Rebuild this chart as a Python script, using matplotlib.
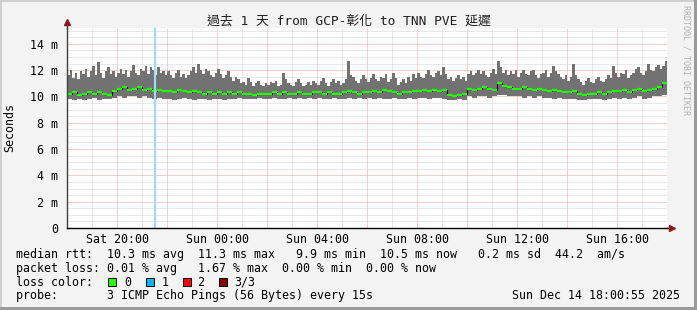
import numpy as np
import matplotlib.pyplot as plt
from matplotlib.patches import Rectangle

W, H = 697, 310

# hours since Sat 18:00
# smoke top: one value every 6 minutes, median / smoke bottom: every 12 minutes
top_step_h = 0.1
step_h = 0.2
smoke_top = [
    11.6, 12.0, 11.4, 11.8, 11.3, 11.9, 11.7, 12.1, 11.5, 11.9, 12.3, 11.6, 12.6, 11.8, 11.4, 11.9, 12.2, 11.7, 11.9, 11.5,
    11.8, 12.1, 11.7, 12.0, 11.5, 11.9, 12.4, 11.8, 11.6, 12.1, 11.9, 12.3, 11.7, 12.2, 12.0, 11.6, 12.2, 11.8, 11.9, 11.6,
    11.9, 11.6, 11.4, 11.8, 12.0, 11.5, 11.7, 11.4, 11.6, 11.9, 12.2, 11.8, 12.5, 12.0, 11.7, 12.1, 11.9, 11.6, 11.5, 11.8,
    12.1, 11.7, 11.4, 11.6, 11.9, 11.5, 11.2, 11.5, 11.3, 11.0, 11.1, 10.9, 11.4, 11.1, 10.8, 11.0, 11.2, 10.9, 10.8, 11.0,
    10.9, 11.1, 11.0, 11.2, 10.8, 10.9, 11.8, 11.3, 11.0, 10.9, 10.8, 11.1, 11.3, 11.0, 10.8, 10.9, 11.1, 10.9, 11.2, 11.0,
    10.9, 11.2, 11.4, 11.0, 10.8, 11.1, 11.3, 11.0, 11.2, 10.9, 11.0, 11.3, 12.7, 11.6, 11.5, 11.2, 11.0, 11.3, 11.6, 11.3,
    11.1, 11.4, 11.7, 11.3, 11.2, 11.5, 11.4, 11.7, 11.1, 11.3, 11.8, 11.4, 10.9, 11.1, 11.3, 11.0, 11.5, 11.2, 11.7, 11.4,
    11.8, 11.5, 11.4, 11.7, 12.0, 11.6, 11.5, 11.8, 11.9, 11.6, 12.2, 11.7, 11.3, 11.5, 11.2, 11.4, 11.6, 11.3, 11.5, 11.2,
    11.7, 11.9, 11.6, 11.8, 12.0, 11.7, 11.9, 11.6, 11.5, 11.8, 12.1, 11.7, 12.7, 12.2, 11.8, 12.0, 11.6, 11.9, 11.7, 12.0,
    11.5, 11.8, 12.0, 11.7, 11.6, 11.9, 12.0, 11.6, 11.4, 11.7, 11.8, 12.0, 11.5, 11.8, 12.3, 11.9, 11.7, 11.5, 11.3, 11.6,
    11.2, 11.5, 12.5, 11.6, 11.3, 11.1, 10.9, 11.2, 11.4, 11.1, 11.0, 11.3, 11.5, 11.2, 11.1, 11.3, 11.6, 11.4, 12.3, 11.8,
    11.5, 11.8, 11.7, 12.0, 11.4, 11.6, 11.8, 12.1, 12.2, 11.8, 11.6, 11.9, 12.5, 12.0, 11.9, 12.2, 12.4, 12.1, 12.3, 12.7,
]
median_rtt = [
    10.2, 10.3, 10.1, 10.2, 10.3, 10.2, 10.3, 10.2, 10.1, 10.4,
    10.6, 10.7, 10.5, 10.6, 10.7, 10.5, 10.6, 10.4, 10.5, 10.4,
    10.4, 10.3, 10.5, 10.4, 10.3, 10.4, 10.3, 10.2, 10.3, 10.2,
    10.3, 10.2, 10.3, 10.2, 10.3, 10.2, 10.2, 10.1, 10.2, 10.2,
    10.2, 10.3, 10.2, 10.3, 10.2, 10.2, 10.3, 10.2, 10.2, 10.3,
    10.3, 10.2, 10.3, 10.2, 10.2, 10.3, 10.4, 10.3, 10.2, 10.3,
    10.3, 10.4, 10.3, 10.5, 10.4, 10.3, 10.2, 10.3, 10.3, 10.4,
    10.4, 10.5, 10.4, 10.5, 10.4, 10.5, 10.1, 10.0, 10.1, 10.2,
    10.6, 10.5, 10.6, 10.7, 10.6, 10.5, 11.0, 10.8, 10.7, 10.6,
    10.6, 10.7, 10.6, 10.5, 10.6, 10.5, 10.4, 10.5, 10.4, 10.3,
    10.3, 10.4, 10.2, 10.1, 10.2, 10.2, 10.3, 10.2, 10.3, 10.4,
    10.4, 10.5, 10.3, 10.5, 10.6, 10.4, 10.5, 10.6, 10.7, 11.0,
]
smoke_bottom = [
    9.8, 9.7, 9.8, 9.7, 9.8, 9.9, 9.7, 9.8, 9.8, 9.9,
    10.0, 9.9, 10.0, 10.0, 9.9, 10.0, 9.9, 9.8, 9.9, 9.8,
    9.8, 9.7, 9.8, 9.9, 9.8, 9.7, 9.8, 9.8, 9.7, 9.8,
    9.8, 9.7, 9.8, 9.8, 9.9, 9.8, 9.8, 9.8, 9.9, 9.8,
    9.8, 9.9, 9.8, 9.8, 9.9, 9.8, 9.9, 9.8, 9.9, 9.8,
    9.9, 9.8, 9.8, 9.9, 9.8, 9.8, 9.9, 9.8, 9.9, 9.8,
    9.9, 9.8, 9.9, 9.8, 9.8, 9.9, 9.8, 9.8, 9.9, 9.8,
    9.9, 9.9, 9.8, 9.9, 9.9, 9.8, 9.7, 9.7, 9.8, 9.7,
    10.0, 9.9, 10.0, 10.0, 9.9, 10.0, 10.1, 10.1, 10.0, 10.0,
    10.0, 9.9, 10.0, 9.9, 10.0, 9.9, 9.9, 9.8, 9.9, 9.8,
    9.8, 9.8, 9.7, 9.7, 9.8, 9.8, 9.8, 9.7, 9.8, 9.9,
    9.8, 9.9, 9.8, 9.9, 10.0, 9.8, 9.9, 10.0, 10.0, 10.1,
]
loss_one_hours = [3.52]

xtick_hours = [2, 6, 10, 14, 18, 22]
xtick_labels = ['Sat 20:00', 'Sun 00:00', 'Sun 04:00', 'Sun 08:00', 'Sun 12:00', 'Sun 16:00']
ytick_vals = [0, 2, 4, 6, 8, 10, 12, 14]
ytick_labels = ['0', '2 m', '4 m', '6 m', '8 m', '10 m', '12 m', '14 m']

title = '過去 1 天 from GCP-彰化 to TNN PVE 延遲'
legend_lines = [
    'median rtt:  10.3 ms avg  11.3 ms max   9.9 ms min  10.5 ms now   0.2 ms sd  44.2  am/s',
    'packet loss: 0.01 % avg   1.67 % max  0.00 % min  0.00 % now',
    'loss color:',
    'probe:       3 ICMP Echo Pings (56 Bytes) every 15s',
]
loss_names = ['0', '1', '2', '3/3']
loss_colors = ['#22ff00', '#00b4ff', '#ff0000', '#8c0000']
stamp = 'Sun Dec 14 18:00:55 2025'

mono = 'DejaVu Sans Mono'
fs = 8.4

fig = plt.figure(figsize=(W / 100, H / 100), dpi=100, facecolor='#f3f3f3')

# pixel box -> figure fraction
def px(x0, y0, w, h):
    return [x0 / W, 1 - (y0 + h) / H, w / W, h / H]

# canvas frame
for (x0, y0, w, h, c) in [(0, 0, W, 2, '#cfcfcf'), (0, 0, 2, H, '#cfcfcf'),
                          (W - 3, 0, 3, H, '#9a9a9a'), (0, H - 3, W, 3, '#9a9a9a')]:
    r = px(x0, y0, w, h)
    fig.patches.append(Rectangle((r[0], r[1]), r[2], r[3], transform=fig.transFigure,
                                 facecolor=c, edgecolor='none'))

ax = fig.add_axes(px(67, 28, 600, 200))
ax.set_facecolor('white')

# smoke band as a step polygon (top at finer resolution than bottom)
e_top = np.arange(len(smoke_top) + 1) * top_step_h
e_bot = np.arange(len(smoke_bottom) + 1) * step_h
xt = np.repeat(e_top, 2)[1:-1]
yt = np.repeat(smoke_top, 2)
xb = np.repeat(e_bot, 2)[1:-1]
yb = np.repeat(smoke_bottom, 2)
ax.fill(np.concatenate([xt, xb[::-1]]), np.concatenate([yt, yb[::-1]]),
        color='#727272', lw=0, zorder=2)

edges = e_bot
med = np.append(median_rtt, median_rtt[-1])
ax.step(edges, med, where='post', color='black', lw=0.8, zorder=3)
ax.hlines(median_rtt, edges[:-1], edges[1:], color=loss_colors[0], lw=1.6, zorder=4)
for h in loss_one_hours:
    ax.axvline(h, color='#9edcf5', lw=1.6, zorder=5)

ax.set_xlim(0, 24)
ax.set_ylim(0, 15.2)

ax.set_xticks(xtick_hours)
ax.set_xticklabels(xtick_labels, family=mono, fontsize=fs)
ax.set_yticks(ytick_vals)
ax.set_yticklabels(ytick_labels, family=mono, fontsize=fs)
ax.tick_params(which='both', length=0)
ax.tick_params(axis='y', pad=6.5)
ax.tick_params(axis='x', pad=3.5)

# grid: minor grey, major every 2 h / 2 ms in red
dots = (0, (1, 1))
for v in np.arange(0, 25, 1):
    c = '#e6a3a3' if v % 2 == 0 else '#d2d2d2'
    ax.axvline(v, color=c, lw=0.72, ls=dots, zorder=1)
for v in np.arange(0, 15.5, 0.5):
    c = '#e6a3a3' if v % 2 == 0 else '#d2d2d2'
    ax.axhline(v, color=c, lw=0.72, ls=dots, zorder=1)

for s in ['top', 'right']:
    ax.spines[s].set_visible(False)
ax.spines['left'].set_color('#404040')
ax.spines['bottom'].set_color('black')
ax.spines['left'].set_linewidth(1)
ax.spines['bottom'].set_linewidth(1)
ax.spines['left'].set_zorder(6)
ax.spines['bottom'].set_zorder(6)

# axis arrows
ax.plot([0, 0], [1.0, 1.03], transform=ax.transAxes, color='#404040', lw=1, clip_on=False)
ax.plot([0], [1.03], transform=ax.transAxes, marker='^', color='#8b1a1a', ms=4, clip_on=False)
ax.plot([1.0, 1.008], [0, 0], transform=ax.transAxes, color='black', lw=1, clip_on=False)
ax.plot([1.008], [0], transform=ax.transAxes, marker='>', color='#8b1a1a', ms=4, clip_on=False)

fig.text(W / 2 / W, 1 - 21 / H, title, ha='center', va='center', fontsize=9.3,
         family=[mono, 'Noto Sans CJK TC'], color='#202020')
fig.text(10 / W, 1 - 128 / H, 'Seconds', rotation=90, ha='center', va='center',
         family=mono, fontsize=fs)
fig.text(686 / W, 1 - 5 / H, 'RRDTOOL / TOBI OETIKER', rotation=270, ha='center', va='top',
         family=mono, fontsize=6, color='#b0b0b0')

ys = [254.7, 268.3, 282.3, 295.7]
for line, y in zip(legend_lines, ys):
    fig.text(16 / W, 1 - y / H, line, ha='left', va='center', family=mono, fontsize=fs)

sq_x = [108, 146, 183, 219]
lab_x = [124, 161.5, 197, 234.5]
for c, name, sx, lx in zip(loss_colors, loss_names, sq_x, lab_x):
    r = px(sx, 278, 8, 8)
    fig.patches.append(Rectangle((r[0], r[1]), r[2], r[3], transform=fig.transFigure,
                                 facecolor=c, edgecolor='black', lw=0.7))
    fig.text(lx / W, 1 - ys[2] / H, name, ha='left', va='center', family=mono, fontsize=fs)

fig.text(680 / W, 1 - ys[3] / H, stamp, ha='right', va='center', family=mono, fontsize=fs)

fig.savefig('out.png', dpi=100, facecolor=fig.get_facecolor())
